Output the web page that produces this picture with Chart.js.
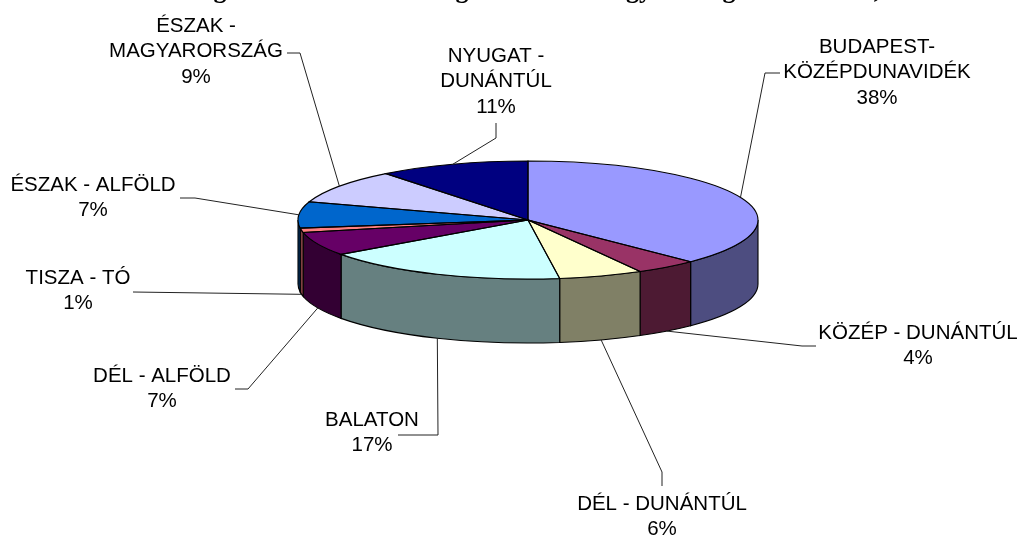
<!DOCTYPE html>
<html>
<head>
<meta charset="utf-8">
<title>Pie</title>
<script src="https://cdn.jsdelivr.net/npm/chart.js@4"></script>
<style>
  html, body { margin: 0; padding: 0; background: #fff; }
  canvas { display: block; }
</style>
</head>
<body>
<canvas id="chart" width="1021" height="536"></canvas>
<script>
// slice sizes, each one rounds to its printed label
const regions = [
  ["BUDAPEST-", "KÖZÉPDUNAVIDÉK"],
  ["KÖZÉP - DUNÁNTÚL"],
  ["DÉL - DUNÁNTÚL"],
  ["BALATON"],
  ["DÉL - ALFÖLD"],
  ["TISZA - TÓ"],
  ["ÉSZAK - ALFÖLD"],
  ["ÉSZAK -", "MAGYARORSZÁG"],
  ["NYUGAT -", "DUNÁNTÚL"]
];
const shares = [37.5, 4.4, 5.9, 17.3, 6.5, 1.2, 7.2, 9.4, 10.6];
const sliceColors = ["#9999FF", "#993366", "#FFFFCC", "#CCFFFF", "#660066", "#FF8080", "#0066CC", "#CCCCFF", "#000080"];

// the heading is cut off by the top edge, only these descenders are left
const titleBits = ["g", "g", "gy", "g", ","];
const titleBitX = [220, 462, 639, 729, 877];

// label centre x / y of first line, then the leader points going towards the pie
const labelPos = [[877, 47], [918, 333], [662, 504], [372, 420], [162, 376], [78, 278], [93, 185], [196, 26], [496, 56]];
const leaderPts = [
  [[780, 73], [765, 73]],
  [[816, 346], [802, 346]],
  [[662, 486], [662, 472]],
  [[398, 435], [438, 435]],
  [[235, 389], [248, 389]],
  [[133, 292]],
  [[180, 198], [195, 198]],
  [[287, 53], [300, 53]],
  [[496, 123], [496, 138]]
];

const RX = 230, RY = 59, DEPTH = 64;

function shade(hex) {
  const n = parseInt(hex.slice(1), 16);
  const c = [n >> 16, (n >> 8) & 255, n & 255].map(v => Math.round(v * 0.5));
  return `rgb(${c[0]},${c[1]},${c[2]})`;
}

const pie3d = {
  id: "pie3d",
  beforeDatasetsDraw(chart) {
    const ctx = chart.ctx;
    const arcs = chart.getDatasetMeta(0).data;
    const cx = arcs[0].x, cy = arcs[0].y;

    // side wall, only the front half shows
    ctx.save();
    ctx.lineWidth = 1.1;
    ctx.strokeStyle = "#000";
    arcs.forEach((arc, i) => {
      const a = Math.max(arc.startAngle, 0);
      const b = Math.min(arc.endAngle, Math.PI);
      if (b <= a) return;
      ctx.beginPath();
      ctx.ellipse(cx, cy, RX, RY, 0, a, b);
      ctx.ellipse(cx, cy + DEPTH, RX, RY, 0, b, a, true);
      ctx.closePath();
      ctx.fillStyle = shade(sliceColors[i]);
      ctx.fill();
      ctx.stroke();
    });
    ctx.restore();

    // squash the library's own arcs into the top face
    ctx.save();
    ctx.translate(cx, cy);
    ctx.scale(1, RY / RX);
    ctx.translate(-cx, -cy);
  },
  afterDatasetsDraw(chart) {
    const ctx = chart.ctx;
    ctx.restore();
    const arcs = chart.getDatasetMeta(0).data;
    const cx = arcs[0].x, cy = arcs[0].y;

    ctx.save();
    ctx.lineWidth = 1.1;
    ctx.strokeStyle = "#000";
    arcs.forEach(arc => {
      ctx.beginPath();
      ctx.moveTo(cx, cy);
      ctx.ellipse(cx, cy, RX, RY, 0, arc.startAngle, arc.endAngle);
      ctx.closePath();
      ctx.stroke();
    });

    // leader lines, they end on the rim at the middle of the slice
    ctx.lineWidth = 1;
    ctx.strokeStyle = "#222";
    arcs.forEach((arc, i) => {
      const mid = (arc.startAngle + arc.endAngle) / 2;
      const front = Math.sin(mid) > 0;
      const pts = leaderPts[i];
      ctx.beginPath();
      ctx.moveTo(pts[0][0], pts[0][1]);
      pts.slice(1).forEach(p => ctx.lineTo(p[0], p[1]));
      ctx.lineTo(cx + RX * Math.cos(mid), cy + RY * Math.sin(mid) + (front ? DEPTH : 0));
      ctx.stroke();
    });

    // labels
    ctx.fillStyle = "#000";
    ctx.textAlign = "center";
    ctx.textBaseline = "middle";
    ctx.font = '20.5px "Liberation Sans", Arial, sans-serif';
    regions.forEach((lines, i) => {
      const [x, y] = labelPos[i];
      [...lines, Math.round(shares[i]) + "%"].forEach((t, k) => ctx.fillText(t, x, y + k * 25.8));
    });

    // what is left of the heading
    ctx.font = 'bold 26px "Liberation Serif", "Times New Roman", serif';
    ctx.textBaseline = "alphabetic";
    titleBits.forEach((t, i) => ctx.fillText(t, titleBitX[i], -2.5));
    ctx.restore();
  }
};

new Chart(document.getElementById("chart"), {
  type: "pie",
  data: {
    labels: regions.map(r => r.join(" ")),
    datasets: [{
      data: shares,
      backgroundColor: sliceColors,
      borderWidth: 0,
      radius: RX,
      clip: false
    }]
  },
  options: {
    responsive: false,
    animation: false,
    layout: { padding: { left: 298, right: 263, top: 0, bottom: 96 } },
    plugins: {
      legend: { display: false },
      tooltip: { enabled: false },
      title: { display: false }
    }
  },
  plugins: [pie3d]
});
</script>
</body>
</html>
